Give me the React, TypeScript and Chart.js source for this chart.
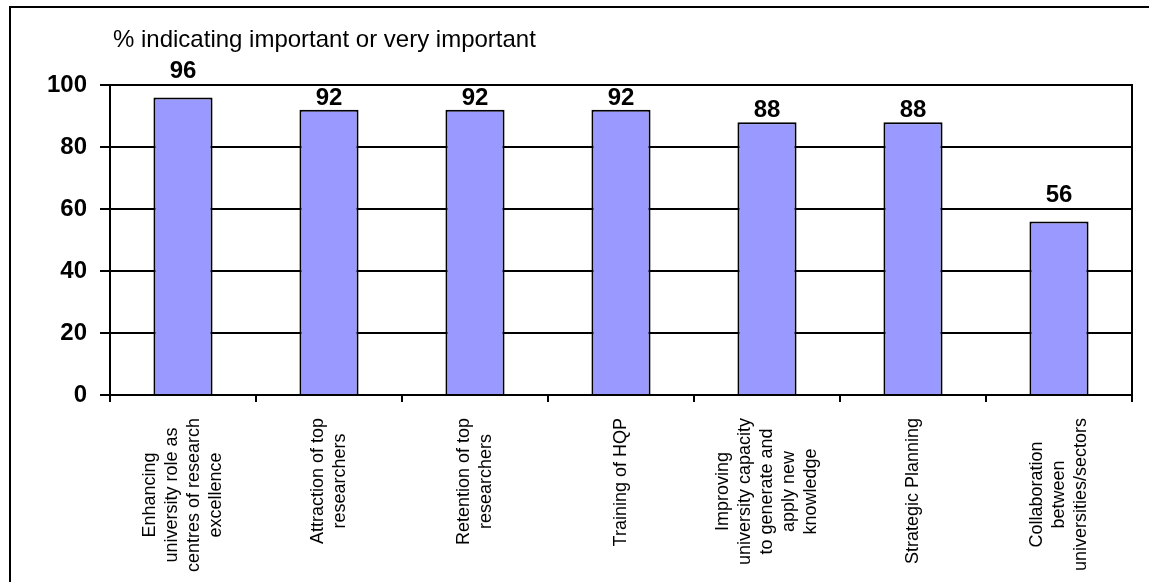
import React, { useEffect, useRef } from "react";
import { Chart, registerables } from "chart.js";

Chart.register(...registerables);

const titleText = "% indicating important or very important";

const categories: string[][] = [
  ["Enhancing", "university role as", "centres of research", "excellence"],
  ["Attraction of top", "researchers"],
  ["Retention of top", "researchers"],
  ["Training of HQP"],
  ["Improving", "university capacity", "to generate and", "apply new", "knowledge"],
  ["Strategic Planning"],
  ["Collaboration", "between", "universities/sectors"],
];

const values: number[] = [96, 92, 92, 92, 88, 88, 56];

const yMin = 0;
const yMax = 100;
const yStep = 20;

const FONT = "'Liberation Sans', Arial, sans-serif";

const centerLinesPlugin = {
  id: "centerLines",
  beforeDraw(chart: any) {
    const { ctx } = chart;
    const scale = chart.scales.x;
    const items = scale.getLabelItems();
    ctx.save();
    items.forEach((it: any) => {
      if (it.__centered) return;
      const lines: string[] = Array.isArray(it.label) ? it.label : [String(it.label)];
      const n = lines.length;
      it.textOffset -= ((n - 1) * it.font.lineHeight) / 2;
      ctx.font = it.font.string;
      let maxW = 0;
      lines.forEach((l) => {
        maxW = Math.max(maxW, ctx.measureText(l).width);
      });
      const opts = { ...it.options };
      opts.textAlign = "center";
      opts.translation = [opts.translation[0], opts.translation[1] + maxW / 2];
      it.options = opts;
      it.__centered = true;
    });
    ctx.restore();
  },
};

const framePlugin = {
  id: "frame",
  beforeDraw(chart: any) {
    const { ctx } = chart;
    ctx.save();
    ctx.fillStyle = "#fff";
    ctx.fillRect(0, 0, chart.width, chart.height);
    ctx.strokeStyle = "#000";
    ctx.lineWidth = 2;
    ctx.strokeRect(10, 7, 1300, 800);
    ctx.restore();
  },
  afterDraw(chart: any) {
    const { ctx, chartArea } = chart;
    ctx.save();
    ctx.strokeStyle = "#000";
    ctx.lineWidth = 2;
    ctx.strokeRect(chartArea.left, chartArea.top, chartArea.right - chartArea.left, chartArea.bottom - chartArea.top);
    ctx.fillStyle = "#000";
    ctx.font = `24px ${FONT}`;
    ctx.textAlign = "left";
    ctx.textBaseline = "alphabetic";
    ctx.fillText(titleText, 113, 47);
    ctx.restore();
  },
};

const valueLabelPlugin = {
  id: "valueLabels",
  afterDatasetsDraw(chart: any) {
    const { ctx } = chart;
    const meta = chart.getDatasetMeta(0);
    const yScale = chart.scales.y;
    const gridYs: number[] = yScale.ticks.map((t: any) => yScale.getPixelForValue(t.value));
    const size = 24;
    const capH = size * 0.716;
    ctx.save();
    ctx.font = `bold ${size}px ${FONT}`;
    ctx.fillStyle = "#000";
    ctx.textAlign = "center";
    ctx.textBaseline = "alphabetic";
    meta.data.forEach((bar: any, i: number) => {
      let base = bar.y - 5;
      for (const gy of gridYs) {
        if (gy >= base - capH - 1 && gy <= base + 2) {
          base = gy - 7;
        }
      }
      ctx.fillText(String(values[i]), bar.x, base);
    });
    ctx.restore();
  },
};

export default function App() {
  const ref = useRef<HTMLCanvasElement | null>(null);

  useEffect(() => {
    if (!ref.current) return;
    const chart = new Chart(ref.current, {
      type: "bar",
      data: {
        labels: categories as any,
        datasets: [
          {
            data: values,
            backgroundColor: "#9999FF",
            borderColor: "#000",
            borderWidth: 2,
            barPercentage: 0.405,
            categoryPercentage: 1.0,
          },
        ],
      },
      options: {
        responsive: false,
        animation: false,
        layout: { padding: { top: 85, right: 17, left: 0, bottom: 0 } },
        plugins: {
          legend: { display: false },
          tooltip: { enabled: false },
          title: { display: false },
        },
        scales: {
          x: {
            afterFit(scale: any) {
              scale.height = 187;
            },
            grid: {
              display: true,
              drawOnChartArea: false,
              drawTicks: true,
              tickLength: 7,
              color: "#000",
              lineWidth: 2,
              offset: true,
            },
            border: { display: true, color: "#000", width: 2 },
            ticks: {
              autoSkip: false,
              minRotation: 90,
              maxRotation: 90,
              padding: 16,
              color: "#000",
              font: { family: FONT, size: 18, lineHeight: 1.22 },
            },
          },
          y: {
            min: yMin,
            max: yMax,
            afterFit(scale: any) {
              scale.width = 110;
            },
            grid: {
              color: "#000",
              lineWidth: 2,
              drawTicks: true,
              tickLength: 10,
            },
            border: { display: true, color: "#000", width: 2 },
            ticks: {
              stepSize: yStep,
              padding: 13,
              color: "#000",
              font: { family: FONT, size: 24, weight: "bold" },
            },
          },
        },
      },
      plugins: [framePlugin, centerLinesPlugin, valueLabelPlugin],
    });
    return () => chart.destroy();
  }, []);

  return (
    <div style={{ position: "absolute", left: 0, top: 0, width: 1149, height: 582 }}>
      <canvas ref={ref} width={1149} height={582} />
    </div>
  );
}
